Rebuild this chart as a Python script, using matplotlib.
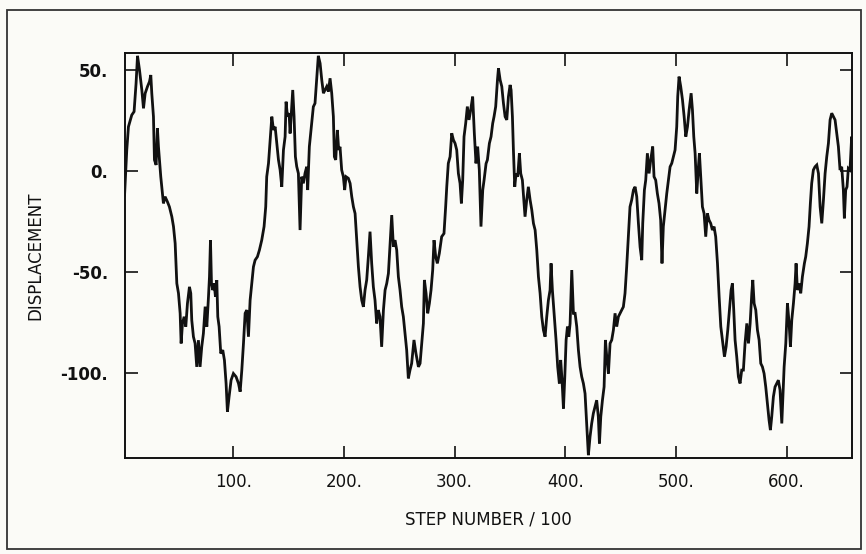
import matplotlib
matplotlib.use("Agg")
import matplotlib.pyplot as plt
from matplotlib.patches import Rectangle

# step number / 100
steps = [2, 4, 5.5, 8.5, 10.6, 12.4, 13.7, 15.5, 17.6, 19.1, 20.6, 22.7, 24.5, 25.7, 26.6, 28.1, 29, 30.5,
         31.7, 32.6, 33.5, 34.7, 35.9, 37.1, 38.6, 40.7, 42.5, 44.7, 46.2, 47.7, 49.2, 50.7, 52.2, 53.1,
         54.3, 55.8, 57.3, 58.8, 60.6, 61.8, 62.7, 64.2, 65.7, 67.2, 68.7, 70.2, 71.7, 73.2, 74.8, 76.3,
         77.8, 78.7, 79.6, 80.5, 81.7, 82.9, 84.1, 85.3, 86.2, 87.4, 88.9, 90.7, 92.2, 93.7, 94.9, 96.4,
         98.2, 100.3, 102.7, 104.9, 106.4, 107.9, 109.4, 110.9, 112.4, 113.9, 115.4, 116.9, 118.4, 119.9,
         122, 123.8, 125.9, 128, 129.5, 130.4, 132, 133.5, 135, 136.5, 138, 139.5, 141, 142.5, 144, 145.5,
         147, 147.9, 149.1, 150.6, 151.5, 153, 153.9, 155.1, 156.3, 157.5, 159, 160.5,
         162, 163.5, 165, 166.5, 167.4, 168.9, 171, 172.5, 174, 175.5, 177, 178.6, 180.1, 181.6, 183.1,
         184.6, 186.1, 187.6, 189.1, 190.6, 191.5, 192.7, 194.2, 195.4, 196.6, 198.1, 199.6, 200.8, 202,
         204.1, 205.7, 207.2, 208.7, 210.2, 211.7, 213.2, 214.7, 216.2, 217.7, 219.2, 220.7, 222.2, 223.7,
         225.2, 226.7, 228.2, 229.7, 231.2, 232.7, 234.2, 235.8, 237.3, 238.8, 240.3, 241.8, 243.3, 244.8,
         246.3, 247.8, 249.3, 250.8, 252.3, 253.8, 255.3, 256.8, 258.3, 259.8, 261.3, 263.4, 265.2, 267.4,
         268.9, 270.4, 271.9, 272.8, 274.3, 275.8, 277.3, 278.8, 280.3, 281.5, 283, 284.5, 286.3, 288.4,
         290.5, 292, 293, 294.4, 296, 297.5, 299, 300.5, 302, 303.5, 305, 306.2, 307.4, 308.6, 310.1,
         311.6, 313.1, 314.6, 316.4, 317.9, 319.4, 320.9, 322.4, 323.9,
         325.5, 326.7, 328.5, 329.7, 331.5, 333, 334.5, 335.7, 337.2, 338.8, 339.7, 341.2, 342.7, 344.2,
         345.7, 347.2, 348.7, 350.2, 351.1, 352.3, 353.2, 354.4, 355.6, 357.1, 358.6, 359.8, 361.3, 362.8,
         363.7, 365.2, 366.7, 368.3, 369.8, 371.3, 372.8, 374.3, 375.8, 377.3, 378.8, 380.3, 381.8, 383.3,
         384.8, 386.3, 387.2, 388.4, 389.9, 391.7, 393.2, 394.7, 395.9, 397.1, 398.4, 399.6, 400.8, 402,
         403.2, 404.4, 405.9, 407.4, 408.9, 410.4, 411.9, 413.4, 414.9, 416.4, 417.9, 419.4, 420.9, 422.4,
         423.9, 425.4, 426.9, 428.4, 429.9, 430.9, 432.1, 433.6, 435.1, 436.3, 437.5, 439, 440.5, 442,
         443.5, 445, 446.5, 448, 449.5, 451, 452.5, 454, 455.5, 457, 458.5, 460, 461.6, 463.1, 464.6,
         466.1, 467.6, 469.1, 470, 471.5, 472.7, 474.2, 475.7, 477.2, 479, 480.2, 481.7, 483.2, 484.7,
         486.2, 487.4, 488.6, 490.2,
         491.7, 493.2, 494.7, 496.2, 497.7, 499.2, 500.7, 501.6, 502.8, 504.3, 505.9, 507.4, 508.9, 510.4,
         511.9, 513.7, 514.9, 516.1, 517.3, 518.8, 520.3, 521.2, 522.4, 523.9, 525.4, 526.9, 528.4, 529.9,
         531.4, 532.9, 534.4, 535.9, 537.5, 539, 540.5, 542, 543.8, 545.3, 546.8, 548.3, 549.8, 551, 552.2,
         553.4, 554.9, 556.4, 557.9, 559.4, 560.9, 562.4, 564, 565.5, 567, 568.5, 569.4, 570.6, 572.1,
         573.6, 575.1, 576.6, 578.1, 579.6, 581.1, 582.6, 584.1, 585.3, 586.5, 588, 589.5, 591, 592.5, 594,
         595.6, 596.5, 597.7, 599.2, 600.7, 602.2, 603.4, 604.6, 606.1, 607.6, 608.5, 609.7, 611.2, 612.7,
         614.2, 616, 617.2, 618.7, 620.2, 621.4, 622.6, 624.1, 625.6, 627.2, 628.7, 630.2, 631.7, 633.2,
         634.7, 636.2, 637.7, 639.2, 640.7, 642.2, 643.7, 645.2, 646.7, 648.2, 649.7, 651.2, 652.1, 653.3,
         654.5, 655.7, 657.2, 658.7, 659.6]

displacement = [-12, 10.4, 21.9, 27.7, 29.4, 43.4, 57, 50, 40.1, 31, 38.4, 41.8, 44.2, 47.5, 38.4, 26.9, 5.5, 3,
                21.1, 12.1, 5.5, -2.8, -9.4, -16, -12.7, -15.2, -17.7, -22.6, -27.5, -35.8, -55.6, -60.5, -70.4, -85.3,
                -75.4, -72.1, -77, -65.5, -57.3, -60.5, -73.8, -82, -85.3, -96.9, -83.7, -96.9, -87, -80.4, -67.1, -77,
                -62.2, -52.3, -34.2, -55.6, -58.9, -55.6, -62.2, -54, -72.1, -77, -90.3, -88.6, -93.6, -105.1, -119.1, -111.7,
                -103.5, -100.2, -101.8, -105.1, -109.2, -98.5, -85.3, -70.4, -68.8, -82, -63.9, -55.6, -47.4, -44.1,
                -42.4, -39.1, -34.2, -27.5, -17.7, -2.8, 3.8, 15.4, 26.9, 20.3, 21.9, 13.7, 5.5, 0.5, -7.8, 10.4,
                17, 34.3, 26.9, 28.6, 18.6, 31.9, 40.1, 26.9, 7.1, 2.2, -1.2, -29.2,
                -2.8, -6.1, -1.1, 2.1, -9.4, 12.1, 23.6, 31.8, 33.5, 45.1, 57, 53.3, 45.1, 38.5, 40.1,
                41.8, 39.3, 45.9, 38.5, 26.9, 7.1, 5.5, 20.3, 10.4, 12, 0.5, -2.8, -9.4, -2.8,
                -3.6, -6.1, -12.7, -17.7, -21, -34.2, -47.4, -57.3, -63.9, -67.2, -58.9, -53.9, -42.4, -30,
                -45.7, -57.3, -63.9, -75.4, -68.8, -72.1, -87, -68.8, -58.9, -55.6, -50.7, -35.8, -21.8, -37.5,
                -34.2, -39.1, -52.3, -58.9, -67.2, -72.1, -80.4, -88.6, -102.6, -98.5, -95.2, -83.6, -90.3, -96.9,
                -95.2, -85.3, -75.4, -53.9, -60.5, -70.4, -65.5, -58.9, -49, -34.2, -42.4, -45.7, -40.7, -32.5,
                -30.9, -17.7, -7.8, 3.8, 7.1, 18.7, 15.4, 13.7, 10.4, -1.2, -6.1, -16, -4.5, 17, 23.6,
                31.9, 25.3, 30.2, 36.8, 18.7, 3.8, 12.1, 0.5, -27.5,
                -9.4, -4.5, 3.7, 5.5, 13.7, 17, 23.6, 26.9, 31.9, 45.1, 50.8, 45.1, 41.8, 33.5,
                26.9, 25.3, 36.8, 42.6, 40.1, 26.9, 10.4, -7.8, -1.2, -2.8, 8.8, -1.2, -4.5, -16,
                -22.6, -14.4, -7.8, -14.4, -19.3, -25.9, -29.2, -39.1, -52.3, -60.5, -72.1, -78.7, -82, -72.1,
                -63.9, -58.9, -45.7, -58.9, -70.4, -83.6, -96.9, -105.1, -93.5, -103.4, -117.5, -101.8, -83.6, -77,
                -82, -75.4, -49, -70.4, -70.4, -77, -88.6, -96.9, -101.8, -105.1, -110.1, -124.9, -140.6, -131.5,
                -124.9, -119.9, -116.6, -113.4, -121.6, -134.8, -121.6, -113.4, -106.8, -83.6, -91.9, -100.2, -85.3, -83.6,
                -78.7, -70.4, -77, -72.1, -70.4, -68.8, -67.2, -60.5, -47.4, -32.5, -17.7, -14.4, -9.4, -7.8, -12.7,
                -25.9, -37.6, -44.1, -25.9, -9.4, -4.5, 8.8, -1.2, 5.5, 12.1, -2.8, -4.5, -11.1, -16,
                -24.3, -45.7, -27.5, -19.3,
                -11.1, -4.5, 2.1, 3.8, 7.1, 10.4, 21.9, 36.8, 46.7, 41.8, 35.2, 26.9, 17, 21.9,
                30.2, 38.5, 30.2, 17, 8.8, -11.1, 2.1, 8.8, -2.8, -17.7, -21, -32.5, -21, -24.3,
                -25.9, -29.2, -27.5, -32.5, -45.7, -62.2, -77, -83.6, -91.9, -86.9, -78.7, -68.8, -58.9, -55.6, -68.8,
                -83.6, -91.9, -101.8, -105.1, -98.5, -98.5, -85.3, -75.4, -85.3, -75.4, -60.5, -53.9, -65.5, -68.8,
                -78.7, -83.6, -95.2, -96.9, -100.2, -106.8, -115, -123.3, -128.2, -121.6, -111.7, -106.8, -105.1, -103.5, -108.4,
                -124.9, -113.4, -96.9, -85.3, -65.5, -75.4, -87, -73.8, -65.5, -55.6, -45.7, -58.9, -55.6, -60.5,
                -52.3, -45.7, -42.4, -35.8, -27.5, -16, -6.1, 0.5, 2.1, 3, -1.2, -17.7, -25.9, -14.4,
                -1.2, 7.1, 13.7, 25.3, 28.6, 26.9, 25.3, 18.7, 12.1, 0.5, 2.1, -9.4, -23.4, -9.4,
                -7.8, 1.3, 0.5, 17, 0.5]

x_ticks = [100, 200, 300, 400, 500, 600]
y_ticks = [50, 0, -50, -100]
x_tick_labels = ["100.", "200.", "300.", "400.", "500.", "600."]
y_tick_labels = ["50.", "0.", "-50.", "-100."]

W, H = 866, 554
fig = plt.figure(figsize=(W / 100, H / 100), dpi=100)
fig.patch.set_facecolor("#fbfbf7")

# outer frame of the page
fig.patches.append(Rectangle((7 / W, 1 - 549 / H), (861 - 7) / W, (549 - 10) / H,
                             transform=fig.transFigure, fill=False, edgecolor="#333333",
                             linewidth=1.3))

ax = fig.add_axes([125 / W, 1 - 458 / H, (852 - 125) / W, (458 - 53) / H])
ax.set_facecolor("#fbfbf7")
ax.plot(steps, displacement, color="#111111", linewidth=2.0, solid_joinstyle="miter")

ax.set_xlim(2.4, 659)
ax.set_ylim(-142, 58.4)

ax.set_xticks(x_ticks)
ax.set_xticklabels(x_tick_labels)
ax.set_yticks(y_ticks)
ax.set_yticklabels(y_tick_labels, fontweight="bold")

ax.tick_params(axis="both", direction="in", length=9, width=1.2, colors="#111111",
               top=True, right=True, labelsize=12, pad=11)
ax.tick_params(axis="y", pad=12)
for s in ax.spines.values():
    s.set_linewidth(1.4)
    s.set_color("#111111")

ax.set_xlabel("STEP NUMBER / 100", fontsize=12, labelpad=14, color="#111111")
ax.set_ylabel("DISPLACEMENT", fontsize=12, labelpad=12, color="#111111")

fig.savefig("out.png", dpi=100, facecolor=fig.get_facecolor())
